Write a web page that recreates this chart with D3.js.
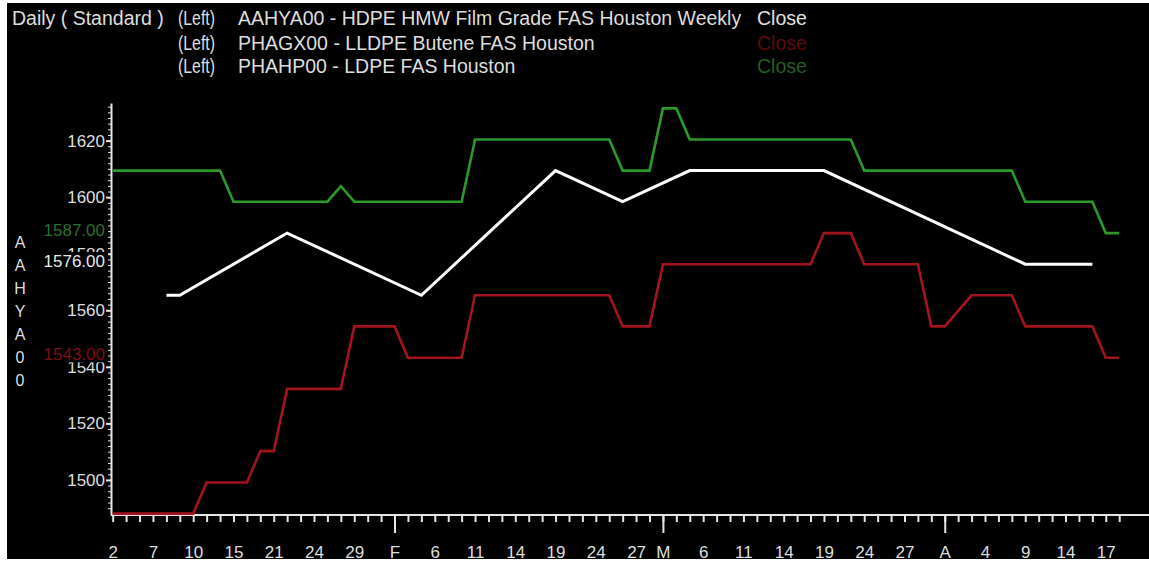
<!DOCTYPE html>
<html>
<head>
<meta charset="utf-8">
<script src="https://cdn.jsdelivr.net/npm/d3@7"></script>
<style>
  html, body { margin: 0; padding: 0; background: #ffffff; }
  svg { display: block; }
  text { font-family: "Liberation Sans", Arial, sans-serif; }
</style>
</head>
<body>
<svg id="chart" width="1149" height="562"></svg>
<script>
// ---- Categories: trading days (x axis) ----
const janDays = [2,3,6,7,8,9,10,13,14,15,16,17,21,22,23,24,27,28,29,30,31];
const febDays = [3,4,5,6,7,10,11,12,13,14,17,18,19,20,21,24,25,26,27,28];
const marDays = [3,4,5,6,7,10,11,12,13,14,17,18,19,20,21,24,25,26,27,28,31];
const aprDays = [1,2,3,4,7,8,9,10,11,14,15,16,17,21];

const pad = n => String(n).padStart(2, "0");
const tradingDays = [].concat(
  janDays.map(d => "2014-01-" + pad(d)),
  febDays.map(d => "2014-02-" + pad(d)),
  marDays.map(d => "2014-03-" + pad(d)),
  aprDays.map(d => "2014-04-" + pad(d))
);

// ---- X tick labels ----
const xLabelDates = ["2014-01-02","2014-01-07","2014-01-10","2014-01-15","2014-01-21","2014-01-24","2014-01-29",
  "2014-02-03","2014-02-06","2014-02-11","2014-02-14","2014-02-19","2014-02-24","2014-02-27",
  "2014-03-03","2014-03-06","2014-03-11","2014-03-14","2014-03-19","2014-03-24","2014-03-27",
  "2014-04-01","2014-04-04","2014-04-09","2014-04-14","2014-04-17"];
const xLabelTexts = ["2","7","10","15","21","24","29","F","6","11","14","19","24","27",
  "M","6","11","14","19","24","27","A","4","9","14","17"];
const monthStartDates = ["2014-02-03","2014-03-03","2014-04-01"];

// ---- Y ticks ----
const yTickValues = [1620, 1600, 1580, 1560, 1540, 1520, 1500];

// ---- Series: PHAHP00 - LDPE FAS Houston (daily, green) ----
const ldpeValues = [
  1609.4,1609.4,1609.4,1609.4,1609.4,1609.4,1609.4,1609.4,1609.4,
  1598.4,1598.4,1598.4,1598.4,1598.4,1598.4,1598.4,1598.4,
  1603.9,
  1598.4,1598.4,1598.4,1598.4,1598.4,1598.4,1598.4,1598.4,1598.4,
  1620.4,1620.4,1620.4,1620.4,1620.4,1620.4,1620.4,1620.4,1620.4,1620.4,1620.4,
  1609.4,1609.4,1609.4,
  1631.4,1631.4,
  1620.4,1620.4,1620.4,1620.4,1620.4,1620.4,1620.4,1620.4,1620.4,1620.4,1620.4,1620.4,1620.4,
  1609.4,1609.4,1609.4,1609.4,1609.4,1609.4,1609.4,1609.4,1609.4,1609.4,1609.4,1609.4,
  1598.4,1598.4,1598.4,1598.4,1598.4,1598.4,
  1587.3,1587.3
];

// ---- Series: PHAGX00 - LLDPE Butene FAS Houston (daily, red) ----
const lldpeValues = [
  1488.1,1488.1,1488.1,1488.1,1488.1,1488.1,1488.1,
  1499.1,1499.1,1499.1,1499.1,
  1510.2,1510.2,
  1532.2,1532.2,1532.2,1532.2,1532.2,
  1554.3,1554.3,1554.3,1554.3,
  1543.2,1543.2,1543.2,1543.2,1543.2,
  1565.3,1565.3,1565.3,1565.3,1565.3,1565.3,1565.3,1565.3,1565.3,1565.3,1565.3,
  1554.3,1554.3,1554.3,
  1576.3,1576.3,1576.3,1576.3,1576.3,1576.3,1576.3,1576.3,1576.3,1576.3,1576.3,1576.3,
  1587.3,1587.3,1587.3,
  1576.3,1576.3,1576.3,1576.3,1576.3,
  1554.3,1554.3,
  null,
  1565.3,1565.3,1565.3,1565.3,
  1554.3,1554.3,1554.3,1554.3,1554.3,1554.3,
  1543.2,1543.2
];

// ---- Series: AAHYA00 - HDPE HMW Film Grade FAS Houston Weekly (white) ----
const hdpeDates = ["2014-01-08","2014-01-09","2014-01-22","2014-02-05","2014-02-19",
  "2014-02-26","2014-03-05","2014-03-19","2014-04-09","2014-04-16"];
const hdpeValues = [1565.3,1565.3,1587.3,1565.3,1609.4,1598.4,1609.4,1609.4,1576.3,1576.3];

// ---- Last-value labels ----
const lastLabels = [
  { text: "1587.00", value: 1587, color: "#2a6f2a" },
  { text: "1576.00", value: 1576, color: "#e8e8e8" },
  { text: "1543.00", value: 1543, color: "#7e0c12" }
];

const svg = d3.select("#chart");
const W = 1149, H = 562;

svg.append("rect").attr("x", 7).attr("y", 3).attr("width", W - 7).attr("height", H - 6).attr("fill", "#000");

const x = d3.scalePoint().domain(tradingDays).range([112.7, 1119.2]);
const y = d3.scaleLinear().domain([1487.6, 1633.3]).range([515, 103]);

const axisColor = "#e6e6e6";
const textColor = "#dedede";

// X axis baseline extends to right edge
svg.append("line").attr("x1", 111).attr("x2", W).attr("y1", 515).attr("y2", 515)
  .attr("stroke", axisColor).attr("stroke-width", 2);

// minor x ticks
const gxMinor = svg.append("g").attr("transform", "translate(0,515)")
  .call(d3.axisBottom(x).tickValues(tradingDays).tickSize(7).tickSizeOuter(0).tickFormat(""));
// major x ticks
const gxMajor = svg.append("g").attr("transform", "translate(0,515)")
  .call(d3.axisBottom(x).tickValues(monthStartDates).tickSize(18).tickSizeOuter(0).tickFormat(""));
// x labels
const labelMap = new Map(xLabelDates.map((d, i) => [d, xLabelTexts[i]]));
const gxLab = svg.append("g").attr("transform", "translate(0,515)")
  .call(d3.axisBottom(x).tickValues(xLabelDates).tickSize(0).tickSizeOuter(0).tickPadding(31)
    .tickFormat(d => labelMap.get(d)));

[gxMinor, gxMajor, gxLab].forEach(g => {
  g.select(".domain").remove();
  g.selectAll("line").attr("stroke", axisColor).attr("stroke-width", 2);
});
gxLab.selectAll("text").attr("fill", textColor).attr("font-size", 17)
  .attr("font-family", "Liberation Sans, Arial, sans-serif");

// Y axis
const gyMinor = svg.append("g").attr("transform", "translate(111,0)")
  .call(d3.axisLeft(y).tickValues(d3.range(1490, 1633, 2)).tickSize(3).tickSizeOuter(0).tickFormat(""));
gyMinor.select(".domain").attr("stroke", axisColor).attr("stroke-width", 2);
gyMinor.selectAll("line").attr("stroke", axisColor).attr("stroke-width", 1);

const gy = svg.append("g").attr("transform", "translate(111,0)")
  .call(d3.axisLeft(y).tickValues(yTickValues).tickSize(5).tickSizeOuter(0).tickPadding(1).tickFormat(d3.format("d")));
gy.select(".domain").remove();
gy.selectAll("line").attr("stroke", axisColor).attr("stroke-width", 2);
gy.selectAll("text").attr("fill", textColor).attr("font-size", 17)
  .attr("font-family", "Liberation Sans, Arial, sans-serif");

// Lines
const line = d3.line().x(d => x(d.date)).y(d => y(d.value));
const greenData = tradingDays.map((d, i) => ({ date: d, value: ldpeValues[i] })).filter(d => d.value != null);
const redData = tradingDays.map((d, i) => ({ date: d, value: lldpeValues[i] })).filter(d => d.value != null);
const whiteData = hdpeDates.map((d, i) => ({ date: d, value: hdpeValues[i] }));

svg.append("path").datum(greenData).attr("d", line).attr("fill", "none")
  .attr("stroke", "#2a9b2a").attr("stroke-width", 2.6);
svg.append("path").datum(redData).attr("d", line).attr("fill", "none")
  .attr("stroke", "#a3141f").attr("stroke-width", 2.6);
svg.append("path").datum(whiteData).attr("d", line).attr("fill", "none")
  .attr("stroke", "#ffffff").attr("stroke-width", 3);

// Last-value labels on the y axis
lastLabels.forEach(l => {
  const cy = y(l.value) - 4;
  svg.append("rect").attr("x", 38).attr("y", cy - 9).attr("width", 70).attr("height", 17).attr("fill", "#000");
  svg.append("text").attr("x", 105).attr("y", cy).attr("dy", "0.36em")
    .attr("text-anchor", "end").attr("font-size", 17).attr("fill", l.color).text(l.text);
});

// Vertical series code
"AAHYA00".split("").forEach((c, i) => {
  svg.append("text").attr("x", 20).attr("y", 242 + i * 23).attr("dy", "0.36em")
    .attr("text-anchor", "middle").attr("font-size", 16).attr("fill", textColor).text(c);
});

// Legend
const legendFont = 19.5;
const legendRows = [
  { y: 25, left: "(Left)", name: "AAHYA00 - HDPE HMW Film Grade FAS Houston Weekly", close: "#e0e0e0" },
  { y: 50, left: "(Left)", name: "PHAGX00 - LLDPE Butene FAS Houston", close: "#5e0a0e" },
  { y: 73, left: "(Left)", name: "PHAHP00 - LDPE FAS Houston", close: "#235f23" }
];
svg.append("text").attr("x", 12).attr("y", 25).attr("font-size", legendFont).attr("fill", textColor)
  .text("Daily ( Standard )");
legendRows.forEach(r => {
  svg.append("text").attr("x", 178).attr("y", r.y).attr("font-size", legendFont).attr("fill", textColor)
    .attr("textLength", 37).attr("lengthAdjust", "spacingAndGlyphs").text(r.left);
  svg.append("text").attr("x", 238).attr("y", r.y).attr("font-size", legendFont).attr("fill", textColor).text(r.name);
  svg.append("text").attr("x", 757).attr("y", r.y).attr("font-size", legendFont).attr("fill", r.close).text("Close");
});
</script>
</body>
</html>
